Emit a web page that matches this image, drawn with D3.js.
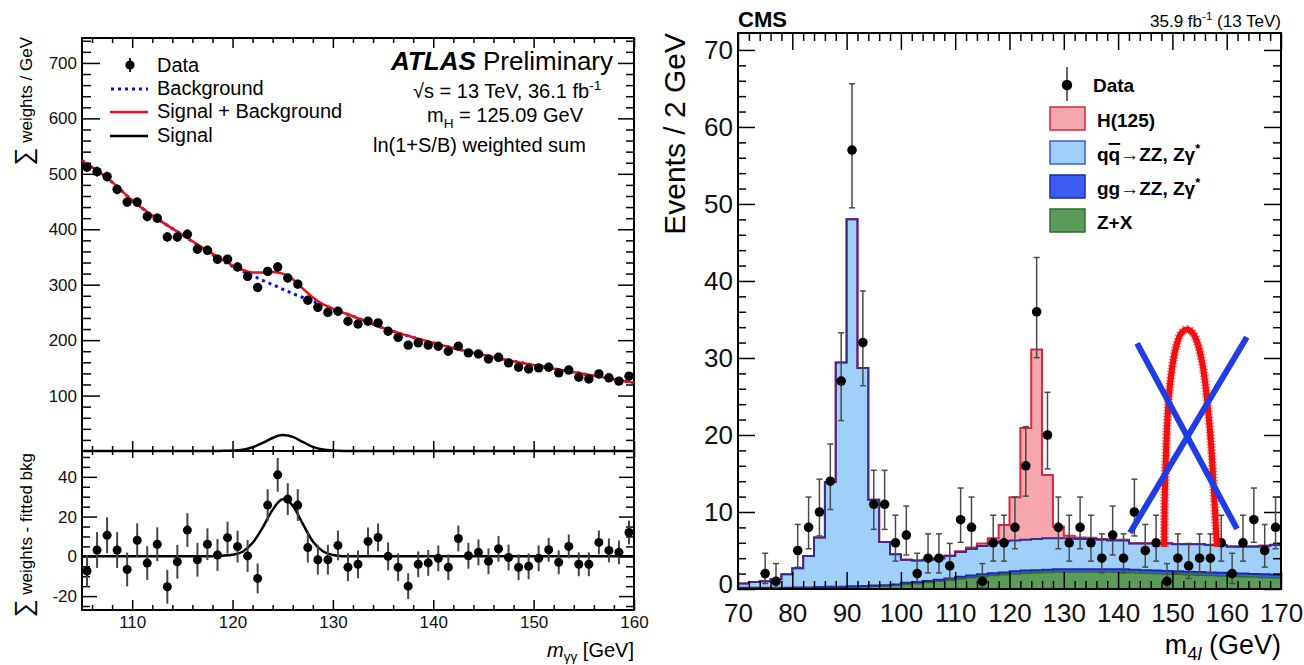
<!DOCTYPE html>
<html>
<head>
<meta charset="utf-8">
<title>Higgs boson: ATLAS diphoton and CMS four-lepton mass spectra</title>
<script src="https://d3js.org/d3.v7.min.js"></script>
<style>
	body { margin: 0; background: #fff; }
	svg { display: block; }
	.frame { fill: none; stroke: #000; stroke-width: 2; }
	.tick line { stroke: #000; stroke-width: 1.5; }
	.tick text { fill: #111; }
</style>
</head>
<body>
<script>
/*
Two Higgs plots side by side: ATLAS m_gg weighted sum (left), CMS m_4l (right)
*/

//---------- ATLAS data ----------
var atlasMass = [105.5,106.5,107.5,108.5,109.5,110.5,111.5,112.5,113.5,114.5,
	115.5,116.5,117.5,118.5,119.5,120.5,121.5,122.5,123.5,124.5,
	125.5,126.5,127.5,128.5,129.5,130.5,131.5,132.5,133.5,134.5,
	135.5,136.5,137.5,138.5,139.5,140.5,141.5,142.5,143.5,144.5,
	145.5,146.5,147.5,148.5,149.5,150.5,151.5,152.5,153.5,154.5,
	155.5,156.5,157.5,158.5,159.5];
var atlasWeights = [512,504,495,472,449,449,423,420,386,386,
	391,364,362,346,346,332,315,295,324,332,
	312,301,272,259,250,252,234,229,234,231,
	216,205,191,195,191,189,180,189,177,175,
	166,169,159,151,148,150,151,141,146,133,
	130,139,132,126,135];
var atlasResidual = [-7.4,3.2,10.6,3.2,-6.6,8.1,-3.4,6.1,-15.3,-2.7,
	13.2,-1.7,6.1,0.7,9.4,4.9,0.2,-11.1,25.8,41,
	28.8,25.8,4.4,-1.7,-1.7,5.5,-5.5,-4,7.5,9.5,
	0,-5.5,-15,-4,-3.3,-1,-5.5,9,0.3,2,
	-2.5,3.8,-0.6,-5.5,-5,-1,3.3,-3,5,-4,
	-4,7,3,2,12];
var atlasError = [8,9,9,9,8.5,8.5,8.5,8.5,8.5,8.5,
	8.5,8.5,8,8,8,8,8,7.5,8,8.5,
	8,8,7.5,7.5,7.5,7.5,7,7,7,7,
	7,7,6.5,6.5,6.5,6.5,6.5,6.5,6.5,6.5,
	6.5,6.5,6.5,6.5,6.5,6.5,6,6,6,6,
	6,6,6,6,6];
var atlasBkgMass = [105,108,110,112,115,118,120,122,124,126,128,130,132,135,140,145,150,155,160];
var atlasBkg = [524,485,452,425,390,354,333,316,300,284,270,256,243,222,195,173,155,139,123];
var atlasSBMass = [105,108,110,112,115,118,120,121,122,123,124,125,126,127,128,129,130,132,135,140,145,150,155,160];
var atlasSB = [524,485,452,425,390,356,335,327,322,322,323,320,310,293,277,265,257,243,222,195,173,155,139,123];
var atlasSigMass = [105,117,118,119,120,121,122,123,124,125,126,127,128,129,130,131,132,160];
var atlasSig = [0,0,0.1,0.3,0.8,2.3,6.8,14.5,23.5,28.7,25.5,16.3,7.5,2.6,0.7,0.1,0,0];
var atlasXTicks = [110,120,130,140,150,160];
var atlasYTicks = [100,200,300,400,500,600,700];
var atlasResTicks = [-20,0,20,40];

//---------- CMS data ----------
var cmsBinWidth = 2;
var cmsBinLow = [70,72,74,76,78,80,82,84,86,88,
	90,92,94,96,98,100,102,104,106,108,
	110,112,114,116,118,120,122,124,126,128,
	130,132,134,136,138,140,142,144,146,148,
	150,152,154,156,158,160,162,164,166,168];
var cmsZX = [0.05,0.05,0.05,0.05,0.05,0.1,0.1,0.15,0.2,0.2,
	0.25,0.3,0.35,0.4,0.5,0.6,0.7,0.85,1.0,1.15,
	1.3,1.45,1.6,1.75,1.85,1.95,2.05,2.1,2.15,2.2,
	2.2,2.2,2.2,2.2,2.2,2.15,2.1,2.05,2.0,1.95,
	1.9,1.85,1.8,1.75,1.7,1.65,1.6,1.55,1.5,1.45];
var cmsGG = [0.1,0.1,0.1,0.1,0.1,0.1,0.1,0.1,0.1,0.1,
	0.1,0.1,0.1,0.1,0.1,0.2,0.2,0.2,0.2,0.2,
	0.3,0.3,0.3,0.3,0.3,0.35,0.35,0.35,0.35,0.35,
	0.35,0.35,0.35,0.35,0.35,0.4,0.4,0.4,0.4,0.4,
	0.4,0.4,0.4,0.4,0.4,0.4,0.4,0.4,0.4,0.4];
var cmsQQ = [0.55,0.75,0.85,1.15,1.75,2.5,4.1,6.45,13.6,29.1,
	47.65,28.3,11.15,5.6,3.9,3.0,2.8,2.75,2.8,2.95,
	3.2,3.45,3.7,3.95,4.05,4.0,4.0,4.05,4.1,4.05,
	4.05,3.95,3.95,3.85,3.75,3.75,3.4,3.45,3.5,3.55,
	3.5,3.55,3.6,3.55,3.6,3.45,3.5,3.55,3.7,3.85];
var cmsH = [0,0,0,0,0,0,0,0,0,0,
	0,0,0,0,0,0,0,0,0,0.05,
	0.1,0.2,0.3,0.6,2.1,5.6,14.5,24.6,8.2,1.5,
	0.3,0.2,0.15,0.1,0.1,0.1,0.05,0.05,0.05,0.05,
	0.05,0.05,0.05,0.05,0.05,0.05,0.05,0.05,0.05,0.05];
var cmsDataMass = [75,77,81,83,85,87,89,91,93,95,
	97,99,101,103,105,107,109,111,113,115,
	117,119,121,123,125,127,129,131,133,135,
	137,139,141,143,145,147,149,151,153,155,
	157,159,161,163,165,167,169];
var cmsDataCount = [2,1,5,8,10,14,27,57,32,11,
	11,6,7,2,4,4,3,9,8,1,
	6,6,8,16,36,20,8,6,8,6,
	4,7,4,10,5,6,1,4,3,4,
	4,6,2,6,9,5,8];
var cmsErrLow = [1.29,0.83,2.16,2.77,3.11,3.68,5.13,7.5,5.6,3.26,
	3.26,2.38,2.58,1.29,1.91,1.91,1.63,2.94,2.77,0.83,
	2.38,2.38,2.77,3.94,5.96,4.41,2.77,2.38,2.77,2.38,
	1.91,2.58,1.91,3.11,2.16,2.38,0.83,1.91,1.63,1.91,
	1.91,2.38,1.29,2.38,2.94,2.16,2.77];
var cmsErrHigh = [2.64,2.3,3.38,3.94,4.26,4.83,6.26,8.6,6.7,4.41,
	4.41,3.58,3.77,2.64,3.16,3.16,2.92,4.11,3.94,2.3,
	3.58,3.58,3.94,5.08,7.05,5.54,3.94,3.58,3.94,3.58,
	3.16,3.77,3.16,4.26,3.38,3.58,2.3,3.16,2.92,3.16,
	3.16,3.58,2.64,3.58,4.11,3.38,3.94];
// hand drawn annotation: red arch and blue cross
var cmsArchMass = [148.5,148.6,148.9,149.3,149.9,150.7,151.6,152.7,153.8,154.8,155.7,156.4,157.1,157.7,158.2];
var cmsArchValue = [5.5,12,19,24.5,28.5,31.5,33.2,33.7,33.2,31.5,28.5,24.5,19,12,5.5];
var cmsCrossMass = [[143.5,161.9],[163.7,142.2]];
var cmsCrossValue = [[31.9,7.8],[32.7,7.3]];
var cmsXTicks = [70,80,90,100,110,120,130,140,150,160,170];
var cmsYTicks = [0,10,20,30,40,50,60,70];
var cmsLegendLabels = [
	[{t: "H(125)"}],
	[{t: "q"}, {t: "q", over: true}, {t: "\u2192ZZ, Z\u03b3"}, {t: "*", sup: true}],
	[{t: "gg\u2192ZZ, Z\u03b3"}, {t: "*", sup: true}],
	[{t: "Z+X"}]
];
var cmsLegendFill = ["#f6a6ad", "#9fd0fa", "#3a5cf0", "#5b9b58"];
var cmsLegendStroke = ["#d8283a", "#3b5fd0", "#1c2aa8", "#2f6b2f"];

var fontFamily = "'Liberation Sans', Arial, Helvetica, sans-serif";
var svgWidth = 1304;
var svgHeight = 665;
var svg = null;

function initSVG(){
	svg = d3.select("body")
			.append("svg")
				.attr("width", svgWidth)
				.attr("height", svgHeight)
				.style("font-family", fontFamily);
	buildAtlas();
	buildCms();
};

//axis helper: ticks only, no domain path
function drawAxis(g, axis, x, y, fontSize){
	var a = g.append("g")
			.attr("transform", "translate(" + x + "," + y + ")")
			.call(axis);
	a.select(".domain").remove();
	a.attr("font-size", null).attr("font-family", null)
		.style("font-size", (fontSize || 10) + "px");
	return a;
};

//text made of parts with sub/superscripts
function richText(g, x, y, size, parts, anchor, subShift){
	var t = g.append("text")
			.attr("x", x)
			.attr("y", y)
			.attr("text-anchor", anchor || "start")
			.style("font-size", size + "px");
	var shift = 0;
	parts.forEach(function(p){
		var want = p.sub ? size * (subShift || 0.3) : (p.sup ? -size * 0.42 : 0);
		var s = t.append("tspan").attr("dy", want - shift).text(p.t);
		shift = want;
		if(p.sub || p.sup) s.style("font-size", (size * 0.68) + "px");
		if(p.italic) s.style("font-style", "italic");
		if(p.bold) s.style("font-weight", "bold");
		if(p.over) s.style("text-decoration", "overline");
		if(p.size) s.style("font-size", p.size + "px");
	});
	return t;
};

function notLabelled(step){
	return function(v){ return Math.abs(v % step) > 1e-6; };
};

function buildAtlas(){
	var box = {left: 82, right: 634, top: 38, split: 451, bottom: 610};
	var g = svg.append("g").attr("class", "atlas");
	var xScale = d3.scaleLinear().domain([105, 160]).range([box.left, box.right]);
	var yTop = d3.scaleLinear().domain([0, 745]).range([box.split, box.top]);
	var yBot = d3.scaleLinear().domain([-27, 53]).range([box.bottom, box.split]);

	var minX = d3.range(106, 160, 2).filter(notLabelled(10));
	var minYTop = d3.range(20, 745, 20).filter(notLabelled(100));
	var minYBot = d3.range(-25, 53, 5).filter(notLabelled(20));

	//top panel ticks
	drawAxis(g, d3.axisLeft(yTop).tickValues(atlasYTicks).tickSizeInner(-18).tickSizeOuter(0).tickPadding(5), box.left, 0, 17);
	drawAxis(g, d3.axisLeft(yTop).tickValues(minYTop).tickSize(-9).tickFormat(""), box.left, 0);
	drawAxis(g, d3.axisRight(yTop).tickValues(atlasYTicks).tickSize(-16).tickFormat(""), box.right, 0);
	drawAxis(g, d3.axisRight(yTop).tickValues(minYTop).tickSize(-8).tickFormat(""), box.right, 0);
	drawAxis(g, d3.axisTop(xScale).tickValues(atlasXTicks).tickSize(-10).tickFormat(""), 0, box.top);
	drawAxis(g, d3.axisTop(xScale).tickValues(minX).tickSize(-5).tickFormat(""), 0, box.top);
	drawAxis(g, d3.axisBottom(xScale).tickValues(atlasXTicks).tickSize(-10).tickFormat(""), 0, box.split);
	drawAxis(g, d3.axisBottom(xScale).tickValues(minX).tickSize(-5).tickFormat(""), 0, box.split);
	//bottom panel ticks
	drawAxis(g, d3.axisTop(xScale).tickValues(atlasXTicks).tickSize(-7).tickFormat(""), 0, box.split);
	drawAxis(g, d3.axisTop(xScale).tickValues(minX).tickSize(-4).tickFormat(""), 0, box.split);
	drawAxis(g, d3.axisBottom(xScale).tickValues(atlasXTicks).tickSizeInner(-10).tickSizeOuter(0).tickPadding(6), 0, box.bottom, 17);
	drawAxis(g, d3.axisBottom(xScale).tickValues(minX).tickSize(-5).tickFormat(""), 0, box.bottom);
	drawAxis(g, d3.axisLeft(yBot).tickValues(atlasResTicks).tickSizeInner(-15).tickSizeOuter(0).tickPadding(5).tickFormat(String), box.left, 0, 17);
	drawAxis(g, d3.axisLeft(yBot).tickValues(minYBot).tickSize(-8).tickFormat(""), box.left, 0);
	drawAxis(g, d3.axisRight(yBot).tickValues(atlasResTicks).tickSize(-15).tickFormat(""), box.right, 0);
	drawAxis(g, d3.axisRight(yBot).tickValues(minYBot).tickSize(-8).tickFormat(""), box.right, 0);

	g.append("rect").attr("class", "frame")
		.attr("x", box.left).attr("y", box.top)
		.attr("width", box.right - box.left).attr("height", box.split - box.top);
	g.append("rect").attr("class", "frame")
		.attr("x", box.left).attr("y", box.split)
		.attr("width", box.right - box.left).attr("height", box.bottom - box.split);

	//fit curves
	var lineTop = d3.line().curve(d3.curveMonotoneX)
					.x(function(d){ return xScale(d[0]); })
					.y(function(d){ return yTop(d[1]); });
	var lineBot = d3.line().curve(d3.curveMonotoneX)
					.x(function(d){ return xScale(d[0]); })
					.y(function(d){ return yBot(d[1]); });
	g.append("path")
		.datum(d3.zip(atlasSigMass, atlasSig))
		.attr("d", lineTop)
		.attr("fill", "none").attr("stroke", "#000").attr("stroke-width", 2.5);
	g.append("path")
		.datum(d3.zip(atlasBkgMass, atlasBkg))
		.attr("d", lineTop)
		.attr("fill", "none").attr("stroke", "#0a0ae6").attr("stroke-width", 3)
		.attr("stroke-dasharray", "3,4");
	g.append("path")
		.datum(d3.zip(atlasSBMass, atlasSB))
		.attr("d", lineTop)
		.attr("fill", "none").attr("stroke", "#ee1111").attr("stroke-width", 2.5);
	g.append("path")
		.datum(d3.zip(atlasSigMass, atlasSig))
		.attr("d", lineBot)
		.attr("fill", "none").attr("stroke", "#000").attr("stroke-width", 2.5);

	//data points, top panel
	var pts = g.append("g").attr("class", "data");
	pts.selectAll("line.top").data(atlasMass).join("line")
		.attr("class", "top")
		.attr("x1", function(d){ return xScale(d); })
		.attr("x2", function(d){ return xScale(d); })
		.attr("y1", function(d, i){ return yTop(atlasWeights[i] - atlasError[i]); })
		.attr("y2", function(d, i){ return yTop(atlasWeights[i] + atlasError[i]); })
		.attr("stroke", "#333").attr("stroke-width", 2);
	pts.selectAll("circle.top").data(atlasMass).join("circle")
		.attr("class", "top")
		.attr("cx", function(d){ return xScale(d); })
		.attr("cy", function(d, i){ return yTop(atlasWeights[i]); })
		.attr("r", 4.7).attr("fill", "#000");
	//data points, residual panel
	pts.selectAll("line.bot").data(atlasMass).join("line")
		.attr("class", "bot")
		.attr("x1", function(d){ return xScale(d); })
		.attr("x2", function(d){ return xScale(d); })
		.attr("y1", function(d, i){ return yBot(atlasResidual[i] - atlasError[i]); })
		.attr("y2", function(d, i){ return yBot(atlasResidual[i] + atlasError[i]); })
		.attr("stroke", "#444").attr("stroke-width", 2);
	pts.selectAll("circle.bot").data(atlasMass).join("circle")
		.attr("class", "bot")
		.attr("cx", function(d){ return xScale(d); })
		.attr("cy", function(d, i){ return yBot(atlasResidual[i]); })
		.attr("r", 4.5).attr("fill", "#000");

	//legend
	var lg = g.append("g").attr("class", "legend");
	lg.append("line").attr("x1", 130).attr("x2", 130).attr("y1", 58).attr("y2", 72)
		.attr("stroke", "#222").attr("stroke-width", 2);
	lg.append("circle").attr("cx", 130).attr("cy", 65).attr("r", 4.6).attr("fill", "#000");
	lg.append("line").attr("x1", 111).attr("x2", 148).attr("y1", 89).attr("y2", 89)
		.attr("stroke", "#0a0ae6").attr("stroke-width", 3).attr("stroke-dasharray", "3,4");
	lg.append("line").attr("x1", 110).attr("x2", 148).attr("y1", 112).attr("y2", 112)
		.attr("stroke", "#ee1111").attr("stroke-width", 2.5);
	lg.append("line").attr("x1", 110).attr("x2", 148).attr("y1", 136).attr("y2", 136)
		.attr("stroke", "#000").attr("stroke-width", 2.5);
	var names = ["Data", "Background", "Signal + Background", "Signal"];
	var baselines = [72, 95, 118, 142];
	names.forEach(function(n, i){
		lg.append("text").attr("x", 157).attr("y", baselines[i])
			.style("font-size", "20px").text(n);
	});

	//labels
	richText(g, 613, 70, 26, [{t: "ATLAS", bold: true, italic: true}, {t: " Preliminary"}], "end");
	richText(g, 413, 98, 20, [{t: "\u221as = 13 TeV, 36.1 fb"}, {t: "-1", sup: true}]);
	richText(g, 427, 122, 20, [{t: "m"}, {t: "H", sub: true}, {t: " = 125.09 GeV"}]);
	richText(g, 373, 152, 20, [{t: "ln(1+S/B) weighted sum"}]);
	richText(g, 634, 657, 20, [{t: "m", italic: true}, {t: "\u03b3\u03b3", sub: true}, {t: " [GeV]"}], "end", 0.22);

	var yl1 = richText(g, 0, 0, 17, [{t: "\u2211", size: 25}, {t: " weights / GeV"}], "end");
	yl1.attr("transform", "translate(32," + (box.top - 1) + ") rotate(-90)");
	var yl2 = richText(g, 0, 0, 17, [{t: "\u2211", size: 25}, {t: " weights - fitted bkg"}], "end");
	yl2.attr("transform", "translate(32," + (box.split + 2) + ") rotate(-90)");
};

function buildCms(){
	var box = {left: 738, right: 1281, top: 33, bottom: 589};
	var g = svg.append("g").attr("class", "cms");
	var xScale = d3.scaleLinear().domain([70, 170]).range([box.left, box.right]);
	var yScale = d3.scaleLinear().domain([0, 72.2]).range([box.bottom, box.top]);

	//stacked histogram
	var rows = cmsBinLow.map(function(lo, i){
		return {lo: lo, zx: cmsZX[i], gg: cmsGG[i], qq: cmsQQ[i], h: cmsH[i]};
	});
	var keys = ["zx", "gg", "qq", "h"];
	var fills = {zx: "#5b9b58", gg: "#3a5cf0", qq: "#9fd0fa", h: "#f6a6ad"};
	var strokes = {zx: "#2f6b2f", gg: "#1c2aa8", qq: "#3b2b96", h: "#d8283a"};
	var layers = d3.stack().keys(keys)(rows);
	var steps = layers.map(function(layer){
		var p = [];
		layer.forEach(function(s){
			p.push({x: s.data.lo, y0: s[0], y1: s[1]});
			p.push({x: s.data.lo + cmsBinWidth, y0: s[0], y1: s[1]});
		});
		return {key: layer.key, points: p};
	});
	var area = d3.area()
				.x(function(d){ return xScale(d.x); })
				.y0(function(d){ return yScale(d.y0); })
				.y1(function(d){ return yScale(d.y1); });
	var topLine = d3.line()
				.x(function(d){ return xScale(d.x); })
				.y(function(d){ return yScale(d.y1); });
	var hist = g.append("g").attr("class", "hist");
	steps.forEach(function(s){
		hist.append("path").attr("d", area(s.points)).attr("fill", fills[s.key]);
	});
	//outlines: signal first so the ZZ line covers it where the signal is ~0
	["h", "zx", "gg", "qq"].forEach(function(k){
		var s = steps.filter(function(d){ return d.key === k; })[0];
		hist.append("path").attr("d", topLine(s.points))
			.attr("fill", "none").attr("stroke", strokes[k])
			.attr("stroke-width", k === "zx" ? 1.5 : 2);
	});

	//ticks
	var minX = d3.range(72, 170, 2).filter(notLabelled(10));
	var minY = d3.range(2, 72, 2).filter(notLabelled(10));
	var yAxis = drawAxis(g, d3.axisLeft(yScale).tickValues(cmsYTicks).tickSizeInner(-17).tickSizeOuter(0).tickPadding(5), box.left, 0, 26);
	//lift the "0" a little so it clears the "70" below it
	yAxis.selectAll(".tick text").filter(function(d){ return d === 0; }).attr("dy", "0.15em");
	drawAxis(g, d3.axisLeft(yScale).tickValues(minY).tickSize(-8).tickFormat(""), box.left, 0);
	drawAxis(g, d3.axisRight(yScale).tickValues(cmsYTicks).tickSize(-17).tickFormat(""), box.right, 0);
	drawAxis(g, d3.axisRight(yScale).tickValues(minY).tickSize(-8).tickFormat(""), box.right, 0);
	drawAxis(g, d3.axisBottom(xScale).tickValues(cmsXTicks).tickSizeInner(-17).tickSizeOuter(0).tickPadding(15), 0, box.bottom, 26);
	drawAxis(g, d3.axisBottom(xScale).tickValues(minX).tickSize(-8).tickFormat(""), 0, box.bottom);
	drawAxis(g, d3.axisTop(xScale).tickValues(cmsXTicks).tickSize(-17).tickFormat(""), 0, box.top);
	drawAxis(g, d3.axisTop(xScale).tickValues(minX).tickSize(-8).tickFormat(""), 0, box.top);
	g.append("rect").attr("class", "frame")
		.attr("x", box.left).attr("y", box.top)
		.attr("width", box.right - box.left).attr("height", box.bottom - box.top);

	//data with asymmetric errors
	var pts = g.append("g").attr("class", "data");
	pts.selectAll("line.bar").data(cmsDataMass).join("line")
		.attr("class", "bar")
		.attr("x1", function(d){ return xScale(d); })
		.attr("x2", function(d){ return xScale(d); })
		.attr("y1", function(d, i){ return yScale(cmsDataCount[i] - cmsErrLow[i]); })
		.attr("y2", function(d, i){ return yScale(cmsDataCount[i] + cmsErrHigh[i]); })
		.attr("stroke", "#4a4a4a").attr("stroke-width", 1.5);
	["lo", "hi"].forEach(function(end){
		pts.selectAll("line.cap" + end).data(cmsDataMass).join("line")
			.attr("class", "cap" + end)
			.attr("x1", function(d){ return xScale(d) - 3; })
			.attr("x2", function(d){ return xScale(d) + 3; })
			.attr("y1", function(d, i){ return yScale(end === "lo" ? cmsDataCount[i] - cmsErrLow[i] : cmsDataCount[i] + cmsErrHigh[i]); })
			.attr("y2", function(d, i){ return yScale(end === "lo" ? cmsDataCount[i] - cmsErrLow[i] : cmsDataCount[i] + cmsErrHigh[i]); })
			.attr("stroke", "#4a4a4a").attr("stroke-width", 1.5);
	});
	pts.selectAll("circle").data(cmsDataMass).join("circle")
		.attr("cx", function(d){ return xScale(d); })
		.attr("cy", function(d, i){ return yScale(cmsDataCount[i]); })
		.attr("r", 4.8).attr("fill", "#000");

	//annotation drawn over the plot
	var archLine = d3.line().curve(d3.curveCatmullRom)
					.x(function(d){ return xScale(d[0]); })
					.y(function(d){ return yScale(d[1]); });
	var arch = d3.zip(cmsArchMass, cmsArchValue);
	g.append("path").datum(arch).attr("d", archLine)
		.attr("fill", "none").attr("stroke", "#f01010").attr("stroke-width", 9)
		.attr("stroke-dasharray", "1.5,1.5").attr("opacity", 0.55);
	g.append("path").datum(arch).attr("d", archLine)
		.attr("fill", "none").attr("stroke", "#f01010").attr("stroke-width", 6);
	cmsCrossMass.forEach(function(m, i){
		g.append("line")
			.attr("x1", xScale(m[0])).attr("y1", yScale(cmsCrossValue[i][0]))
			.attr("x2", xScale(m[1])).attr("y2", yScale(cmsCrossValue[i][1]))
			.attr("stroke", "#1f3de6").attr("stroke-width", 6);
	});

	//legend
	var lg = g.append("g").attr("class", "legend");
	lg.append("line").attr("x1", 1067).attr("x2", 1067).attr("y1", 67).attr("y2", 101)
		.attr("stroke", "#333").attr("stroke-width", 1.5);
	lg.append("circle").attr("cx", 1067).attr("cy", 85).attr("r", 5.2).attr("fill", "#000");
	lg.append("text").attr("x", 1093).attr("y", 92)
		.style("font-size", "19px").style("font-weight", "bold").text("Data");
	cmsLegendLabels.forEach(function(parts, i){
		var top = 107 + i * 34;
		lg.append("rect").attr("x", 1050).attr("y", top).attr("width", 35).attr("height", 23)
			.attr("fill", cmsLegendFill[i]).attr("stroke", cmsLegendStroke[i]).attr("stroke-width", 1.5);
		richText(lg, 1097, top + 20, 19, parts).style("font-weight", "bold");
	});

	//titles
	g.append("text").attr("x", box.left).attr("y", 27)
		.style("font-size", "22px").style("font-weight", "bold").text("CMS");
	richText(g, box.right, 27, 17, [{t: "35.9 fb"}, {t: "-1", sup: true}, {t: " (13 TeV)"}], "end");
	g.append("text")
		.attr("transform", "translate(685," + box.top + ") rotate(-90)")
		.attr("text-anchor", "end")
		.style("font-size", "30px")
		.text("Events / 2 GeV");
	richText(g, box.right, 654, 27, [{t: "m"}, {t: "4", sub: true}, {t: "l", sub: true, italic: true}, {t: " (GeV)"}], "end", 0.22);
};

initSVG();
</script>
</body>
</html>
